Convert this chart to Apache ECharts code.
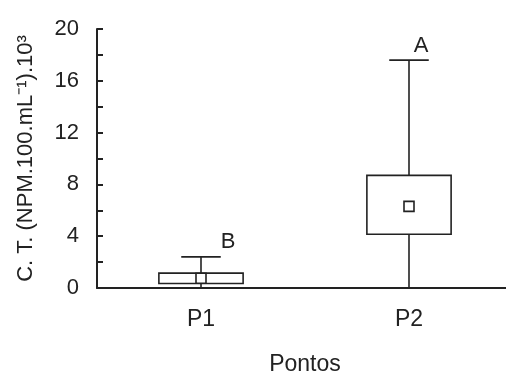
<!DOCTYPE html>
<html>
<head>
<meta charset="utf-8">
<script src="https://cdn.jsdelivr.net/npm/echarts@6/dist/echarts.min.js"></script>
<style>
html, body { margin: 0; padding: 0; background: #fff; }
#chart { width: 506px; height: 376px; }
</style>
</head>
<body>
<div id="chart"></div>
<script>
var pontos = ['P1', 'P2'];
var minVals = [0, 0];
var q1Vals = [0.35, 4.15];
var q3Vals = [1.15, 8.7];
var maxVals = [2.4, 17.6];
var meanVals = [0.75, 6.3];
var letras = ['B', 'A'];
var yTicks = [0, 4, 8, 12, 16, 20];

// deslocamento das letras em relacao ao topo do bigode (px)
var letraDx = [27, 12];
var letraDy = [-15, -14];

var ink = '#222';
var fonte = '"Liberation Sans", Arial, sans-serif';

function renderBox(params, api) {
	var i = params.dataIndex;
	var x = api.value(0);
	var band = api.size([1, 0])[0];
	var boxW = band * 0.405;
	var capW = band * 0.19;
	var pMin = api.coord([x, api.value(1)]);
	var pQ1 = api.coord([x, api.value(2)]);
	var pQ3 = api.coord([x, api.value(3)]);
	var pMax = api.coord([x, api.value(4)]);
	var pMean = api.coord([x, api.value(5)]);
	var cx = pMin[0];
	var st = { stroke: ink, lineWidth: 1.6, fill: null };
	var sq = 10;
	return {
		type: 'group',
		children: [
			{ type: 'line', shape: { x1: cx, y1: pMax[1], x2: cx, y2: pQ3[1] }, style: st },
			{ type: 'line', shape: { x1: cx, y1: pQ1[1], x2: cx, y2: pMin[1] }, style: st },
			{ type: 'line', shape: { x1: cx - capW / 2, y1: pMax[1], x2: cx + capW / 2, y2: pMax[1] }, style: st },
			{ type: 'rect', shape: { x: cx - boxW / 2, y: pQ3[1], width: boxW, height: pQ1[1] - pQ3[1] },
				style: { stroke: ink, lineWidth: 1.6, fill: '#fff' } },
			{ type: 'rect', shape: { x: cx - sq / 2, y: pMean[1] - sq / 2, width: sq, height: sq },
				style: { stroke: ink, lineWidth: 1.6, fill: '#fff' } },
			{ type: 'text', x: cx + letraDx[i], y: pMax[1] + letraDy[i],
				style: { text: letras[i], fill: ink, font: '22px ' + fonte, align: 'center', verticalAlign: 'middle' } }
		]
	};
}

var dados = pontos.map(function (p, i) {
	return [i, minVals[i], q1Vals[i], q3Vals[i], maxVals[i], meanVals[i]];
});

var myChart = echarts.init(document.getElementById('chart'));
var option = {
	animation: false,
	backgroundColor: '#fff',
	grid: { left: 97, right: -7, top: 29, bottom: 88, containLabel: false, outerBoundsMode: 'none' },
	xAxis: {
		type: 'category',
		data: pontos,
		boundaryGap: true,
		name: 'Pontos',
		nameLocation: 'middle',
		nameGap: 65,
		nameTextStyle: { color: ink, fontSize: 23, fontFamily: fonte },
		axisLine: { lineStyle: { color: ink, width: 2 } },
		axisTick: { show: false },
		axisLabel: { color: ink, fontSize: 23, fontFamily: fonte, margin: 20 },
		splitLine: { show: false }
	},
	yAxis: {
		type: 'value',
		min: 0,
		max: 20,
		interval: 2,
		name: 'C. T. (NPM.100.mL⁻¹).10³',
		nameLocation: 'middle',
		nameRotate: 90,
		nameGap: 60,
		nameTextStyle: { color: ink, fontSize: 22, fontFamily: fonte },
		axisLine: { show: true, lineStyle: { color: ink, width: 2 } },
		axisTick: { show: true, inside: true, length: 6, lineStyle: { color: ink, width: 2 } },
		axisLabel: {
			color: ink, fontSize: 22, fontFamily: fonte, margin: 18,
			formatter: function (v) { return yTicks.indexOf(v) >= 0 ? String(v) : ''; }
		},
		splitLine: { show: false }
	},
	series: [{
		type: 'custom',
		renderItem: renderBox,
		encode: { x: 0, y: [1, 2, 3, 4, 5] },
		data: dados,
		clip: false
	}]
};
myChart.setOption(option);
</script>
</body>
</html>
